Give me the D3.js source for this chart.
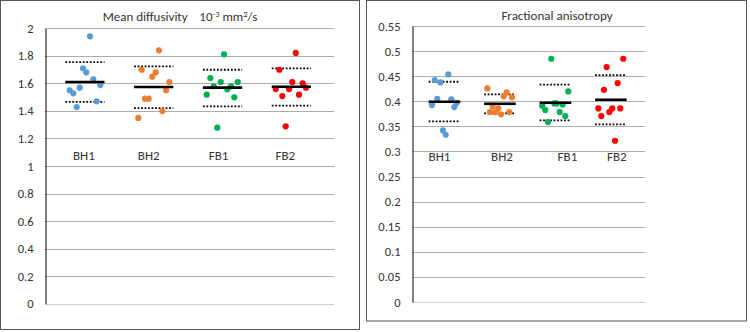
<!DOCTYPE html>
<html>
<head>
<meta charset="utf-8">
<script src="https://cdn.jsdelivr.net/npm/d3@7"></script>
<style>
  body { margin: 0; background: #fff; }
  text { font-family: Carlito, Calibri, Lato, sans-serif; fill: #333; }
</style>
</head>
<body>
<svg width="750" height="332"></svg>
<script>
const categories = ["BH1", "BH2", "FB1", "FB2"];
const colors = ["#5B9BD5", "#ED7D31", "#00B050", "#FF0000"];

// mean diffusivity (10^-3 mm2/s), point x = jittered category position
const mdX = [
  [1.074, 0.972, 1.020, 1.122, 1.224, 0.924, 0.779, 0.831, 1.171, 0.881],
  [2.077, 1.825, 2.029, 1.980, 2.227, 2.179, 1.873, 1.927, 2.125, 1.776],
  [3.022, 2.823, 2.974, 3.221, 2.872, 3.123, 3.070, 2.770, 3.171, 2.924],
  [4.064, 3.826, 4.014, 4.165, 4.214, 3.773, 3.967, 4.112, 3.869, 3.918]
];
const mdY = [
  [1.942, 1.709, 1.680, 1.630, 1.588, 1.569, 1.550, 1.528, 1.470, 1.428],
  [1.840, 1.699, 1.680, 1.649, 1.610, 1.550, 1.489, 1.489, 1.399, 1.349],
  [1.811, 1.639, 1.610, 1.610, 1.579, 1.579, 1.557, 1.518, 1.499, 1.278],
  [1.821, 1.699, 1.610, 1.601, 1.569, 1.559, 1.559, 1.518, 1.508, 1.288]
];
const mdMean = [1.610, 1.574, 1.569, 1.576];
const mdUpper = [1.755, 1.724, 1.699, 1.709];
const mdLower = [1.465, 1.421, 1.433, 1.438];
const mdTicks = [0, 0.2, 0.4, 0.6, 0.8, 1, 1.2, 1.4, 1.6, 1.8, 2];

// fractional anisotropy
const faX = [
  [1.069, 0.824, 0.925, 0.871, 1.123, 1.220, 0.775, 1.177, 0.973, 1.022],
  [1.772, 2.121, 2.067, 2.217, 1.869, 1.970, 1.820, 1.916, 2.168, 2.019],
  [2.925, 3.232, 2.979, 3.023, 3.131, 2.763, 2.817, 3.077, 3.178, 2.866],
  [4.223, 3.924, 4.122, 3.875, 3.773, 4.025, 4.169, 3.971, 3.827, 4.074]
];
const faY = [
  [0.4536, 0.4422, 0.4376, 0.405, 0.4038, 0.397, 0.3924, 0.3884, 0.342, 0.3333],
  [0.4257, 0.4177, 0.4098, 0.4078, 0.3898, 0.3858, 0.3785, 0.3779, 0.3785, 0.3739],
  [0.4847, 0.4197, 0.3958, 0.3958, 0.3938, 0.3911, 0.3825, 0.3785, 0.3705, 0.3586],
  [0.4847, 0.4681, 0.4363, 0.4229, 0.3858, 0.3858, 0.3858, 0.3785, 0.3705, 0.3213]
];
const faMean = [0.399, 0.395, 0.397, 0.403];
const faUpper = [0.4389, 0.4137, 0.433, 0.4522];
const faLower = [0.360, 0.3759, 0.362, 0.354];
const faTicks = [0, 0.05, 0.1, 0.15, 0.2, 0.25, 0.3, 0.35, 0.4, 0.45, 0.5, 0.55];

const svg = d3.select("svg");

// chart frames
svg.append("rect")
  .attr("x", 0.5).attr("y", 0.5).attr("width", 359).attr("height", 329)
  .attr("fill", "none").attr("stroke", "#595959");
svg.append("rect")
  .attr("x", 366.5).attr("y", 0.5).attr("width", 380).attr("height", 320.5)
  .attr("fill", "none").attr("stroke", "#595959");

function drawPanel(cfg) {
  const g = svg.append("g");

  const x = d3.scaleLinear().domain([0.42, 4.62]).range([cfg.left, cfg.right]);
  const y = d3.scaleLinear().domain([0, cfg.ticks[cfg.ticks.length - 1]]).range([cfg.bottom, cfg.top]);

  // gridlines
  g.selectAll(".grid")
    .data(cfg.ticks.filter(t => t > 0))
    .enter().append("line")
    .attr("x1", cfg.left).attr("x2", cfg.right)
    .attr("y1", d => Math.round(y(d)) + 0.5)
    .attr("y2", d => Math.round(y(d)) + 0.5)
    .attr("stroke", "#acacac");
  g.append("line")
    .attr("x1", cfg.left).attr("x2", cfg.right)
    .attr("y1", Math.round(y(0)) + 0.5).attr("y2", Math.round(y(0)) + 0.5)
    .attr("stroke", "#d0d0d0");

  // y axis
  const axis = g.append("g")
    .attr("transform", `translate(${Math.round(cfg.left) + 0.5},0)`)
    .call(d3.axisLeft(y).tickValues(cfg.ticks).tickSize(0).tickPadding(12)
      .tickFormat(d => String(+d.toFixed(2))));
  axis.select(".domain").attr("stroke", "#000");
  axis.selectAll("text")
    .style("font-family", "Carlito, Calibri, Lato, sans-serif")
    .style("font-size", "12.5px")
    .attr("fill", "#333");

  // title
  cfg.title(g);

  // category labels
  g.selectAll(".cat")
    .data(categories)
    .enter().append("text")
    .attr("x", (d, i) => x(i + 1) + cfg.labelShift[i])
    .attr("y", cfg.labelY)
    .attr("text-anchor", "middle")
    .style("font-size", "13px")
    .text(d => d);

  const hw = 0.285;
  categories.forEach((c, i) => {
    // dotted range lines
    [cfg.upper[i], cfg.lower[i]].forEach(v => {
      g.append("line")
        .attr("x1", x(i + 1 - hw)).attr("x2", x(i + 1 + hw))
        .attr("y1", y(v)).attr("y2", y(v))
        .attr("stroke", "#000")
        .attr("stroke-width", 1.8)
        .attr("stroke-dasharray", "1.8,1.7");
    });

    // points
    g.selectAll(".pt" + i)
      .data(cfg.ys[i])
      .enter().append("circle")
      .attr("cx", (d, j) => x(cfg.xs[i][j]))
      .attr("cy", d => y(d))
      .attr("r", 3.1)
      .attr("fill", colors[i]);

    // mean line
    g.append("line")
      .attr("x1", x(i + 1 - hw)).attr("x2", x(i + 1 + hw))
      .attr("y1", y(cfg.mean[i])).attr("y2", y(cfg.mean[i]))
      .attr("stroke", "#000")
      .attr("stroke-width", 2.6);
  });
}

drawPanel({
  left: 45, right: 334, top: 28.3, bottom: 303.7,
  ticks: mdTicks, xs: mdX, ys: mdY,
  mean: mdMean, upper: mdUpper, lower: mdLower,
  labelY: 160, labelShift: [-1, -5, -4, -6],
  title: g => {
    const t = g.append("text").attr("x", 180).attr("y", 20.5)
      .attr("text-anchor", "middle").style("font-size", "13px");
    t.append("tspan").text("Mean diffusivity\u00a0\u00a0\u00a0\u00a010");
    t.append("tspan").attr("dy", -4).style("font-size", "8.5px").text("-3");
    t.append("tspan").attr("dy", 4).text(" mm");
    t.append("tspan").attr("dy", -4).style("font-size", "8.5px").text("2");
    t.append("tspan").attr("dy", 4).text("/s");
  }
});

drawPanel({
  left: 412.3, right: 645.3, top: 26, bottom: 302,
  ticks: faTicks, xs: faX, ys: faY,
  mean: faMean, upper: faUpper, lower: faLower,
  labelY: 161, labelShift: [-5, 2, 12, 6],
  title: g => {
    g.append("text").attr("x", 557).attr("y", 20)
      .attr("text-anchor", "middle").style("font-size", "13px")
      .text("Fractional anisotropy");
  }
});
</script>
</body>
</html>
